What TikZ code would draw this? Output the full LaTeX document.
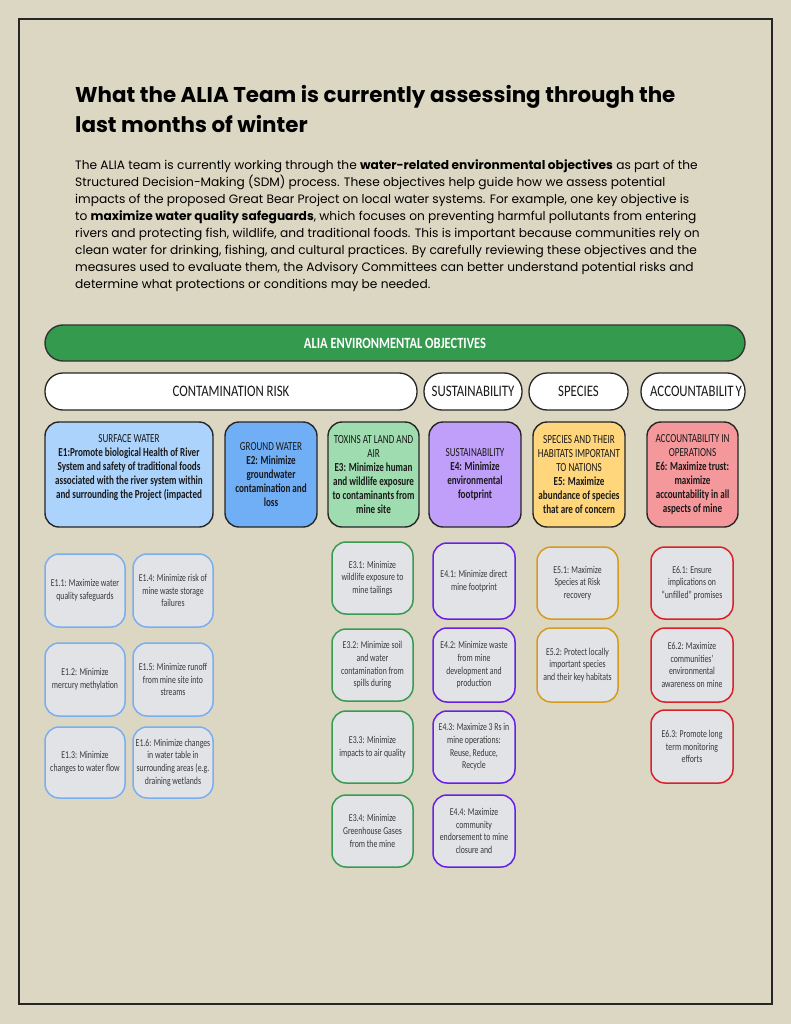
\documentclass[tikz,border=0pt]{standalone}
\usepackage{fontspec}
\setmainfont{Poppins}
\newfontfamily\dgm[FakeStretch=0.74]{Carlito}
\newfontfamily\dgmc[FakeStretch=0.80]{Carlito}
\definecolor{bgc}{HTML}{DCD7C2}
\definecolor{bannergreen}{HTML}{349A4E}
\definecolor{eone}{HTML}{ACD3FC}
\definecolor{etwo}{HTML}{70AEF5}
\definecolor{ethree}{HTML}{9FDDB0}
\definecolor{efour}{HTML}{C09FFB}
\definecolor{efive}{HTML}{FFD67C}
\definecolor{esix}{HTML}{F5989C}
\definecolor{subfill}{HTML}{E1E3E6}
\definecolor{lblue}{HTML}{79AEF0}
\definecolor{lgreen}{HTML}{3A9A52}
\definecolor{lpurple}{HTML}{6A1FE6}
\definecolor{lorange}{HTML}{D69A1E}
\definecolor{lred}{HTML}{D9202B}
\newcommand\bx[7]{\node[#2, minimum width={#5pt-#3pt}, minimum height={#6pt-#4pt}] (#1) at ({(#3+#5)/2},{(#4+#6)/2}) {#7};}
\begin{document}
\begin{tikzpicture}[x=1pt,y=-1pt,
  obj/.style={draw=black!85, line width=1.4pt, rounded corners=14pt, align=center, inner sep=0pt, text=black!90, font=\dgm\fontsize{12.3}{14}\selectfont},
  sub/.style={fill=subfill, line width=1.5pt, rounded corners=14pt, align=center, inner sep=0pt, text=black!78, font=\dgm\fontsize{10.5}{12.7}\selectfont},
  cat/.style={fill=white, draw=black!85, line width=1.3pt, rounded corners=18pt, inner sep=0pt, text=black!90, font=\dgmc\fontsize{16}{18}\selectfont}]
\fill[bgc] (0,0) rectangle (791,1024);
\useasboundingbox (0,0) rectangle (791,1024);
\draw[line width=1.2pt, black!85] (19,19) rectangle (772,1004);

\node[anchor=north west, align=left, inner sep=0pt, font=\bfseries\fontsize{21.4}{30}\selectfont] (title) at (75,85)
 {What the ALIA Team is currently assessing through the\\ last months of winter};

\node[anchor=north west, align=left, inner sep=0pt, font=\fontsize{12.2}{17}\selectfont] (body) at (75,160)
 {The ALIA team is currently working through the \textbf{water-related environmental objectives} as part of the\\
 Structured Decision-Making (SDM) process. These objectives help guide how we assess potential\\
 impacts of the proposed Great Bear Project on local water systems. For example, one key objective is\\
 to \textbf{maximize water quality safeguards}, which focuses on preventing harmful pollutants from entering\\
 rivers and protecting fish, wildlife, and traditional foods. This is important because communities rely on\\
 clean water for drinking, fishing, and cultural practices. By carefully reviewing these objectives and the\\
 measures used to evaluate them, the Advisory Committees can better understand potential risks and\\
 determine what protections or conditions may be needed.};

% banner
\bx{banner}{fill=bannergreen, draw=black!80, line width=1.4pt, rounded corners=18pt, text=white, font=\dgmc\bfseries\fontsize{15.6}{17}\selectfont}{45}{325}{745}{361}{ALIA ENVIRONMENTAL OBJECTIVES}

% categories
\bx{contam}{cat}{45}{373}{417}{410}{CONTAMINATION RISK}
\bx{sust}{cat}{424}{373}{522}{410}{SUSTAINABILITY}
\bx{spec}{cat}{529}{373}{628}{410}{SPECIES}
\bx{acct}{cat}{641}{373}{745}{410}{\hspace{6pt}ACCOUNTABILIT\hspace{2pt}Y}

% objectives
\bx{eone}{obj, fill=eone}{45}{422}{213}{527}{SURFACE WATER\\ \textbf{E1:Promote biological Health of River}\\ \textbf{System and safety of traditional foods}\\ \textbf{associated with the river system within}\\ \textbf{and surrounding the Project (impacted}\\[2pt]}
\bx{etwo}{obj, fill=etwo}{225}{422}{317}{527}{GROUND WATER\\ \textbf{E2: Minimize}\\ \textbf{groundwater}\\ \textbf{contamination and}\\ \textbf{loss}}
\bx{ethree}{obj, fill=ethree}{328}{422}{419}{527}{TOXINS AT LAND AND\\ AIR\\ \textbf{E3: Minimize human}\\ \textbf{and wildlife exposure}\\ \textbf{to contaminants from}\\ \textbf{mine site}}
\bx{efour}{obj, fill=efour}{429}{422}{521}{527}{SUSTAINABILITY\\ \textbf{E4: Minimize}\\ \textbf{environmental}\\ \textbf{footprint}}
\bx{efive}{obj, fill=efive}{533}{422}{625}{527}{SPECIES AND THEIR\\ HABITATS IMPORTANT\\ TO NATIONS\\ \textbf{E5: Maximize}\\ \textbf{abundance of species}\\ \textbf{that are of concern}}
\bx{esix}{obj, fill=esix}{647}{422}{738}{527}{ACCOUNTABILITY IN\\ OPERATIONS\\ \textbf{E6: Maximize trust:}\\ \textbf{maximize}\\ \textbf{accountability in all}\\ \textbf{aspects of mine}}

% E1 subs
\bx{eoneone}{sub, draw=lblue}{45}{554}{125}{627}{E1.1: Maximize water\\ quality safeguards}
\bx{eonefour}{sub, draw=lblue}{133}{554}{213}{627}{E1.4: Minimize risk of\\ mine waste storage\\ failures}
\bx{eonetwo}{sub, draw=lblue}{45}{643}{125}{716}{E1.2: Minimize\\ mercury methylation}
\bx{eonefive}{sub, draw=lblue}{133}{643}{213}{716}{E1.5: Minimize runoff\\ from mine site into\\ streams}
\bx{eonethree}{sub, draw=lblue}{45}{727}{125}{798}{E1.3: Minimize\\ changes to water flow}
\bx{eonesix}{sub, draw=lblue}{133}{727}{213}{798}{E1.6: Minimize changes\\ in water table in\\ surrounding areas (e.g.\\ draining wetlands}

% E3 subs
\bx{ethreeone}{sub, draw=lgreen}{332}{542}{413}{614}{E3.1: Minimize\\ wildlife exposure to\\ mine tailings}
\bx{ethreetwo}{sub, draw=lgreen}{332}{629}{413}{701}{E3.2: Minimize soil\\ and water\\ contamination from\\ spills during}
\bx{ethreethree}{sub, draw=lgreen}{332}{711}{413}{783}{E3.3: Minimize\\ impacts to air quality}
\bx{ethreefour}{sub, draw=lgreen}{332}{795}{413}{867}{E3.4: Minimize\\ Greenhouse Gases\\ from the mine}

% E4 subs
\bx{efourone}{sub, draw=lpurple}{433}{543}{515}{619}{E4.1: Minimize direct\\ mine footprint}
\bx{efourtwo}{sub, draw=lpurple}{433}{628}{515}{702}{E4.2: Minimize waste\\ from mine\\ development and\\ production}
\bx{efourthree}{sub, draw=lpurple}{433}{711}{515}{783}{E4.3: Maximize 3 Rs in\\ mine operations:\\ Reuse, Reduce,\\ Recycle}
\bx{efourfour}{sub, draw=lpurple}{433}{795}{515}{867}{E4.4: Maximize\\ community\\ endorsement to mine\\ closure and}

% E5 subs
\bx{efiveone}{sub, draw=lorange}{537}{547}{618}{619}{E5.1: Maximize\\ Species at Risk\\ recovery}
\bx{efivetwo}{sub, draw=lorange}{537}{628}{618}{702}{E5.2: Protect locally\\ important species\\ and their key habitats}

% E6 subs
\bx{esixone}{sub, draw=lred}{651}{547}{733}{619}{E6.1: Ensure\\ implications on\\ “unfilled” promises}
\bx{esixtwo}{sub, draw=lred}{651}{628}{733}{702}{E6.2: Maximize\\ communities’\\ environmental\\ awareness on mine}
\bx{esixthree}{sub, draw=lred}{651}{710}{733}{783}{E6.3: Promote long\\ term monitoring\\ efforts}
\end{tikzpicture}
\end{document}
